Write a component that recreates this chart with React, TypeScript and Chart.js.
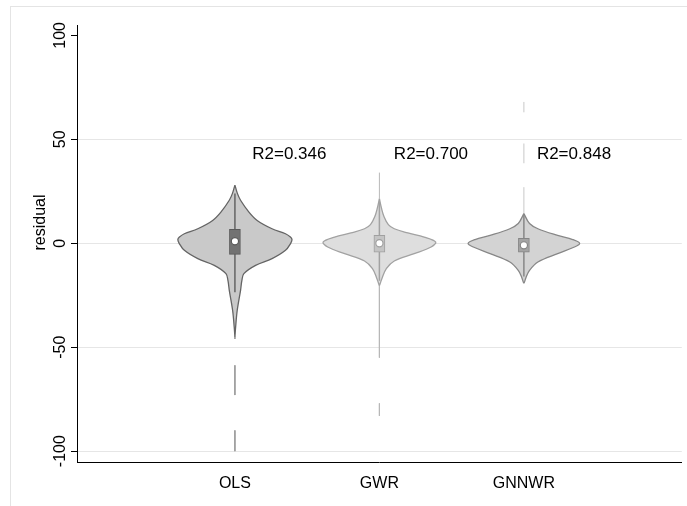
import React, { useEffect, useRef } from 'react';
import { Chart, registerables } from 'chart.js';

Chart.register(...registerables);

const FONT = '"Liberation Sans", Arial, sans-serif';

const categories = ['OLS', 'GWR', 'GNNWR'];
const r2Labels = ['R2=0.346', 'R2=0.700', 'R2=0.848'];
const r2X = [1.12, 2.1, 3.09];
const r2Y = 43;
const yTicks = [-100, -50, 0, 50, 100];
const yTitle = 'residual';

// violin outlines: levels (residual value) and half-widths (category units)
const olsLevels = [28, 24, 20.7, 15, 11, 7, 4.6, 3, 1.8, 0, -3.4, -7.4, -10.6, -14.6, -18, -22.6, -32.2, -40.2, -45];
const olsHalf = [0, 0.017, 0.039, 0.097, 0.154, 0.257, 0.35, 0.384, 0.395, 0.386, 0.35, 0.257, 0.143, 0.062, 0.048, 0.039, 0.016, 0.005, 0];
const gwrLevels = [21.5, 17, 13, 9, 7, 5, 3, 0.6, -1.8, -5, -8.5, -12.2, -17, -20];
const gwrHalf = [0, 0.014, 0.031, 0.062, 0.103, 0.197, 0.31, 0.39, 0.358, 0.241, 0.103, 0.048, 0.017, 0.002];
const gnnwrLevels = [14.3, 9.5, 7, 3.8, 1.8, 0, -1.8, -5, -9, -13, -16.2, -19];
const gnnwrHalf = [0, 0.039, 0.097, 0.234, 0.338, 0.386, 0.35, 0.234, 0.097, 0.039, 0.016, 0.002];

// thin density tails (from, to)
const olsTails = [[-45, -46], [-58.7, -73], [-90, -100]];
const gwrTails = [[21.5, 34], [-20, -55], [-77, -83]];
const gnnwrTails = [[14.3, 27], [38.5, 48], [63, 68]];

// box plots
const boxLow = [-5.3, -4.3, -4.3];
const boxHigh = [6.7, 3.8, 2.4];
const whiskerLow = [-23.5, -18, -16];
const whiskerHigh = [24, 20, 14];
const medians = [1, 0, -1];

const violinFill = ['#c9c9c9', '#dedede', '#d3d3d3'];
const violinLine = ['#646464', '#a2a2a2', '#878787'];
const tailColor = ['#9a9a9a', '#b8b8b8', '#c8c8c8'];
const boxFill = ['#727272', '#c4c4c4', '#a4a4a4'];
const boxLine = ['#5a5a5a', '#a0a0a0', '#858585'];

const X_MIN = -0.093;
const X_MAX = 4.093;
const Y_MIN = -105.2;
const Y_MAX = 105;
const AXIS_LEFT = 77;

function outline(center: number, levels: number[], half: number[]) {
  const right = levels.map((y, i) => ({ x: center + half[i], y }));
  const left = levels.map((y, i) => ({ x: center - half[i], y })).reverse();
  return [...right, ...left];
}

const textPlugin = {
  id: 'texts',
  beforeDraw(chart: any) {
    const ctx = chart.ctx;
    ctx.save();
    ctx.strokeStyle = '#e4e4e4';
    ctx.lineWidth = 1;
    ctx.strokeRect(10.5, 6.5, 800, 600);
    ctx.restore();
  },
  afterDraw(chart: any) {
    const ctx = chart.ctx;
    const ys = chart.scales.y;
    const xs = chart.scales.x;
    const left = chart.chartArea.left;
    ctx.save();
    ctx.fillStyle = '#000';
    ctx.font = `16px ${FONT}`;
    ctx.textAlign = 'center';
    ctx.textBaseline = 'alphabetic';
    yTicks.forEach((v) => {
      const py = ys.getPixelForValue(v);
      ctx.save();
      ctx.translate(left - 12, py);
      ctx.rotate(-Math.PI / 2);
      ctx.fillText(String(v), 0, 0);
      ctx.restore();
    });
    ctx.save();
    ctx.translate(45, ys.getPixelForValue(10));
    ctx.rotate(-Math.PI / 2);
    ctx.fillText(yTitle, 0, 0);
    ctx.restore();
    ctx.font = `17px ${FONT}`;
    ctx.textAlign = 'left';
    ctx.textBaseline = 'middle';
    r2Labels.forEach((t, i) => {
      ctx.fillText(t, xs.getPixelForValue(r2X[i]), ys.getPixelForValue(r2Y));
    });
    ctx.restore();
  },
};

export default function App() {
  const ref = useRef<HTMLCanvasElement | null>(null);

  useEffect(() => {
    if (!ref.current) return;
    const levelsAll = [olsLevels, gwrLevels, gnnwrLevels];
    const halfAll = [olsHalf, gwrHalf, gnnwrHalf];
    const tailsAll = [olsTails, gwrTails, gnnwrTails];
    const datasets: any[] = [];

    categories.forEach((_, i) => {
      const c = i + 1;
      datasets.push({
        type: 'line',
        data: outline(c, levelsAll[i], halfAll[i]),
        showLine: true,
        fill: 'shape',
        backgroundColor: violinFill[i],
        borderColor: violinLine[i],
        borderWidth: 1.3,
        pointRadius: 0,
        tension: 0.35,
        order: 10,
      });
      tailsAll[i].forEach(([a, b]) => {
        datasets.push({
          type: 'line',
          data: [{ x: c, y: a }, { x: c, y: b }],
          showLine: true,
          fill: false,
          borderColor: tailColor[i],
          borderWidth: 1,
          pointRadius: 0,
          order: 11,
        });
      });
      datasets.push({
        type: 'line',
        data: [{ x: c, y: whiskerLow[i] }, { x: c, y: whiskerHigh[i] }],
        showLine: true,
        fill: false,
        borderColor: violinLine[i],
        borderWidth: 1.5,
        pointRadius: 0,
        order: 3,
      });
    });

    datasets.push({
      type: 'bar',
      data: categories.map((_, i) => ({ x: i + 1, y: [boxLow[i], boxHigh[i]] })),
      backgroundColor: boxFill,
      borderColor: boxLine,
      borderWidth: 1,
      borderSkipped: false,
      barThickness: 11,
      order: 2,
    });

    datasets.push({
      type: 'scatter',
      data: categories.map((_, i) => ({ x: i + 1, y: medians[i] })),
      pointRadius: 3.6,
      pointBackgroundColor: '#ffffff',
      pointBorderColor: boxLine,
      pointBorderWidth: 1.2,
      showLine: false,
      order: 1,
    });

    const chart = new Chart(ref.current, {
      type: 'scatter',
      data: { datasets },
      options: {
        animation: false,
        responsive: true,
        maintainAspectRatio: false,
        layout: { padding: { top: 25, right: 2, left: 0, bottom: 0 } },
        plugins: { legend: { display: false }, tooltip: { enabled: false } },
        scales: {
          x: {
            type: 'linear',
            min: X_MIN,
            max: X_MAX,
            offset: false,
            afterBuildTicks: (s: any) => {
              s.ticks = categories.map((_, i) => ({ value: i + 1 }));
            },
            afterFit: (s: any) => {
              s.height = 44;
            },
            ticks: {
              callback: (v: any) => categories[Math.round(v) - 1] ?? '',
              font: { family: FONT, size: 16 },
              color: '#000',
              padding: 12,
              autoSkip: false,
              maxRotation: 0,
              minRotation: 0,
            },
            grid: { display: false, drawTicks: false, offset: false },
            border: { display: true, color: '#000', width: 1 },
          },
          y: {
            type: 'linear',
            min: Y_MIN,
            max: Y_MAX,
            afterBuildTicks: (s: any) => {
              s.ticks = yTicks.map((v) => ({ value: v }));
            },
            afterFit: (s: any) => {
              s.width = AXIS_LEFT;
            },
            ticks: { display: false },
            grid: {
              color: (c: any) => (c.tick && c.tick.value === 100 ? 'rgba(0,0,0,0)' : '#e6e6e6'),
              tickColor: '#000',
              tickLength: 6,
              drawTicks: true,
              lineWidth: 1,
            },
            border: { display: true, color: '#000', width: 1 },
          },
        },
      },
      plugins: [textPlugin],
    } as any);
    return () => chart.destroy();
  }, []);

  return (
    <div style={{ position: 'absolute', left: 0, top: 0, width: 687, height: 506, background: '#fff' }}>
      <canvas ref={ref} />
    </div>
  );
}
